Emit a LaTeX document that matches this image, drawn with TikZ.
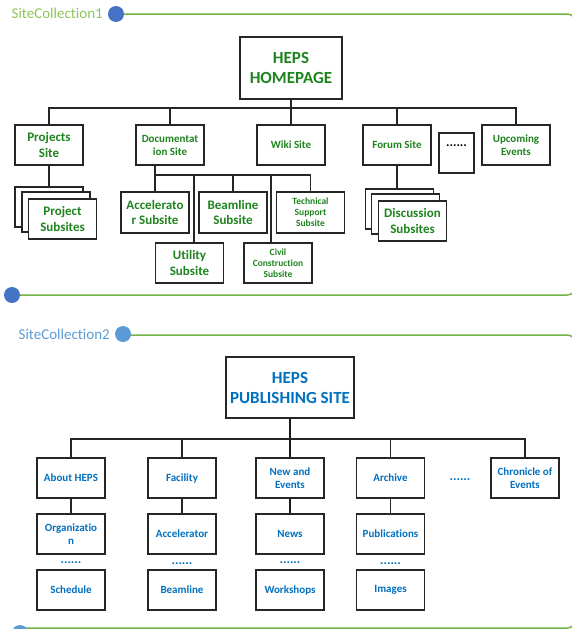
\documentclass[tikz,border=0pt]{standalone}
\usepackage{fontspec}
\setmainfont[Ligatures=NoCommon]{Carlito}
\definecolor{tgreen}{RGB}{30,132,30}
\definecolor{tblue}{RGB}{0,112,192}
\definecolor{lgreen}{RGB}{115,178,70}
\definecolor{lbl1}{RGB}{140,198,90}
\definecolor{lbl2}{RGB}{91,155,213}
\definecolor{dot1}{RGB}{68,114,196}
\definecolor{dot2}{RGB}{91,155,213}
\begin{document}
\begin{tikzpicture}[x=1pt,y=-1pt,
  box/.style={draw=black!85, line width=1.2pt, fill=white, minimum width=68pt, minimum height=40pt, align=center, inner sep=1pt, font=\bfseries\fontsize{11}{13}\selectfont},
  gbox/.style={box, text=tgreen},
  bbox/.style={box, text=tblue},
  conn/.style={draw=black!85, line width=1.1pt},
  thick conn/.style={draw=black!90, line width=1.8pt},
  bigtext/.style={font=\bfseries\fontsize{13}{15.5}\selectfont},
  smalltext/.style={font=\bfseries\fontsize{9.5}{11}\selectfont},
  titletext/.style={font=\bfseries\fontsize{17}{20}\selectfont},
  dotstext/.style={font=\bfseries\fontsize{13}{15}\selectfont, inner sep=0pt},
  coltext/.style={font=\fontsize{15}{18}\selectfont, anchor=base east, inner sep=0pt},
  band/.style={draw=lgreen, line width=1.5pt, rounded corners=9pt}
]
\useasboundingbox (0,0) rectangle (572,629);

% ---------- Site collection 1 ----------
\draw[band] (116,14) -- (576,14) -- (576,295) -- (12,295);
\fill[dot1] (116,14) circle (8pt);
\fill[dot1] (12,295) circle (8pt);
\node[coltext, text=lbl1] (sc1) at (103,19) {SiteCollection1};

\node[gbox, titletext, minimum width=102pt, minimum height=62pt] (home) at (291,68) {HEPS\\HOMEPAGE};
\coordinate (bus1) at (0,108);

\node[gbox, bigtext] (proj) at (49,145) {Projects\\Site};
\node[gbox] (doc) at (170,145) {Documentat\\ion Site};
\node[gbox] (wiki) at (291,145) {Wiki Site};
\node[gbox] (forum) at (397,145) {Forum Site};
\node[box, minimum width=35pt] (more1) at (456.5,153) {};
\node[dotstext, text=black] (more1t) at (456.5,146) {......};
\node[gbox] (up) at (516,145) {Upcoming\\Events};

\draw[conn] (home.south) -- (home.south |- bus1);
\draw[conn] (proj.north) -- (proj.north |- bus1) -- (up.north |- bus1) -- (up.north);
\foreach \n in {doc,wiki,forum} \draw[conn] (\n.north) -- (\n.north |- bus1);

% project subsites stack
\node[box] (ps1) at (49,207) {};
\node[box] (ps2) at (56,212) {};
\node[gbox, bigtext] (ps3) at (62.5,219) {Project\\Subsites};
\draw[conn] (proj.south) -- (ps1.north);

% discussion subsites stack
\node[box] (fs1) at (399.5,209) {};
\node[box] (fs2) at (405.5,214) {};
\node[gbox, bigtext] (fs3) at (412.5,221) {Discussion\\Subsites};
\draw[conn] (forum.south) -- (forum.south |- fs1.north);

% documentation subsites
\node[gbox, bigtext, minimum height=41pt] (acc) at (155,212.5) {Accelerato\\r Subsite};
\node[gbox, bigtext, minimum height=41pt] (beam) at (233,212.5) {Beamline\\Subsite};
\node[gbox, smalltext, minimum height=41pt] (tech) at (310.5,212.5) {Technical\\Support\\Subsite};
\node[gbox, bigtext] (util) at (189.5,263) {Utility\\Subsite};
\node[gbox, smalltext] (civil) at (278,263) {Civil\\Construction\\Subsite};
\coordinate (dbus) at (0,175);
\draw[conn] ([xshift=-15pt]doc.south) -- ([xshift=-15pt]doc.south |- dbus) -- (tech.north |- dbus) -- (tech.north);
\draw[conn] (acc.north) -- (acc.north |- dbus);
\draw[conn] (beam.north) -- (beam.north |- dbus);
\draw[conn] ([xshift=4.5pt]util.north) -- ([xshift=4.5pt]util.north |- dbus);
\draw[conn] ([xshift=-7pt]civil.north) -- ([xshift=-7pt]civil.north |- dbus);

% ---------- Site collection 2 ----------
\draw[band] (123,335) -- (576,335) -- (576,628) -- (20,628);
\fill[dot2] (123,334) circle (8pt);
\fill[dot2] (20,633) circle (8pt);
\node[coltext, text=lbl2] (sc2) at (110,339) {SiteCollection2};

\node[bbox, titletext, minimum width=128pt, minimum height=61pt] (pub) at (290,387.5) {HEPS\\PUBLISHING SITE};
\coordinate (bus2) at (0,439);

\node[bbox] (about) at (71,478) {About HEPS};
\node[bbox] (fac) at (182,478) {Facility};
\node[bbox] (nae) at (290,478) {New and\\Events};
\node[bbox] (arch) at (390.5,478) {Archive};
\node[dotstext, text=tblue] (more2) at (460,480) {......};
\node[bbox] (chron) at (525,478) {Chronicle of\\Events};

\node[bbox] (org) at (71,534) {Organizatio\\n};
\node[bbox] (acc2) at (182,534) {Accelerator};
\node[bbox] (news) at (290,534) {News};
\node[bbox] (publ) at (390.5,534) {Publications};

\node[dotstext, text=tblue] (d1) at (71,563) {......};
\node[dotstext, text=tblue] (d2) at (182,564) {......};
\node[dotstext, text=tblue] (d3) at (290,563) {......};
\node[dotstext, text=tblue] (d4) at (390.5,564) {......};

\node[bbox] (sched) at (71,590) {Schedule};
\node[bbox] (beam2) at (182,590) {Beamline};
\node[bbox] (work) at (290,590) {Workshops};
\node[bbox] (img) at (390.5,590) {Images};

\draw[thick conn] (pub.south) -- (pub.south |- bus2);
\draw[conn] (about.north) -- (about.north |- bus2) -- (chron.north |- bus2) -- (chron.north);
\draw[conn] (fac.north) -- (fac.north |- bus2);
\draw[thick conn] (nae.north) -- (nae.north |- bus2);
\draw[conn] (arch.north) -- (arch.north |- bus2);
\draw[conn] (about.south) -- (org.north);
\draw[conn] (fac.south) -- (acc2.north);
\draw[thick conn] (nae.south) -- (news.north);
\draw[conn] (arch.south) -- (publ.north);
\end{tikzpicture}
\end{document}
